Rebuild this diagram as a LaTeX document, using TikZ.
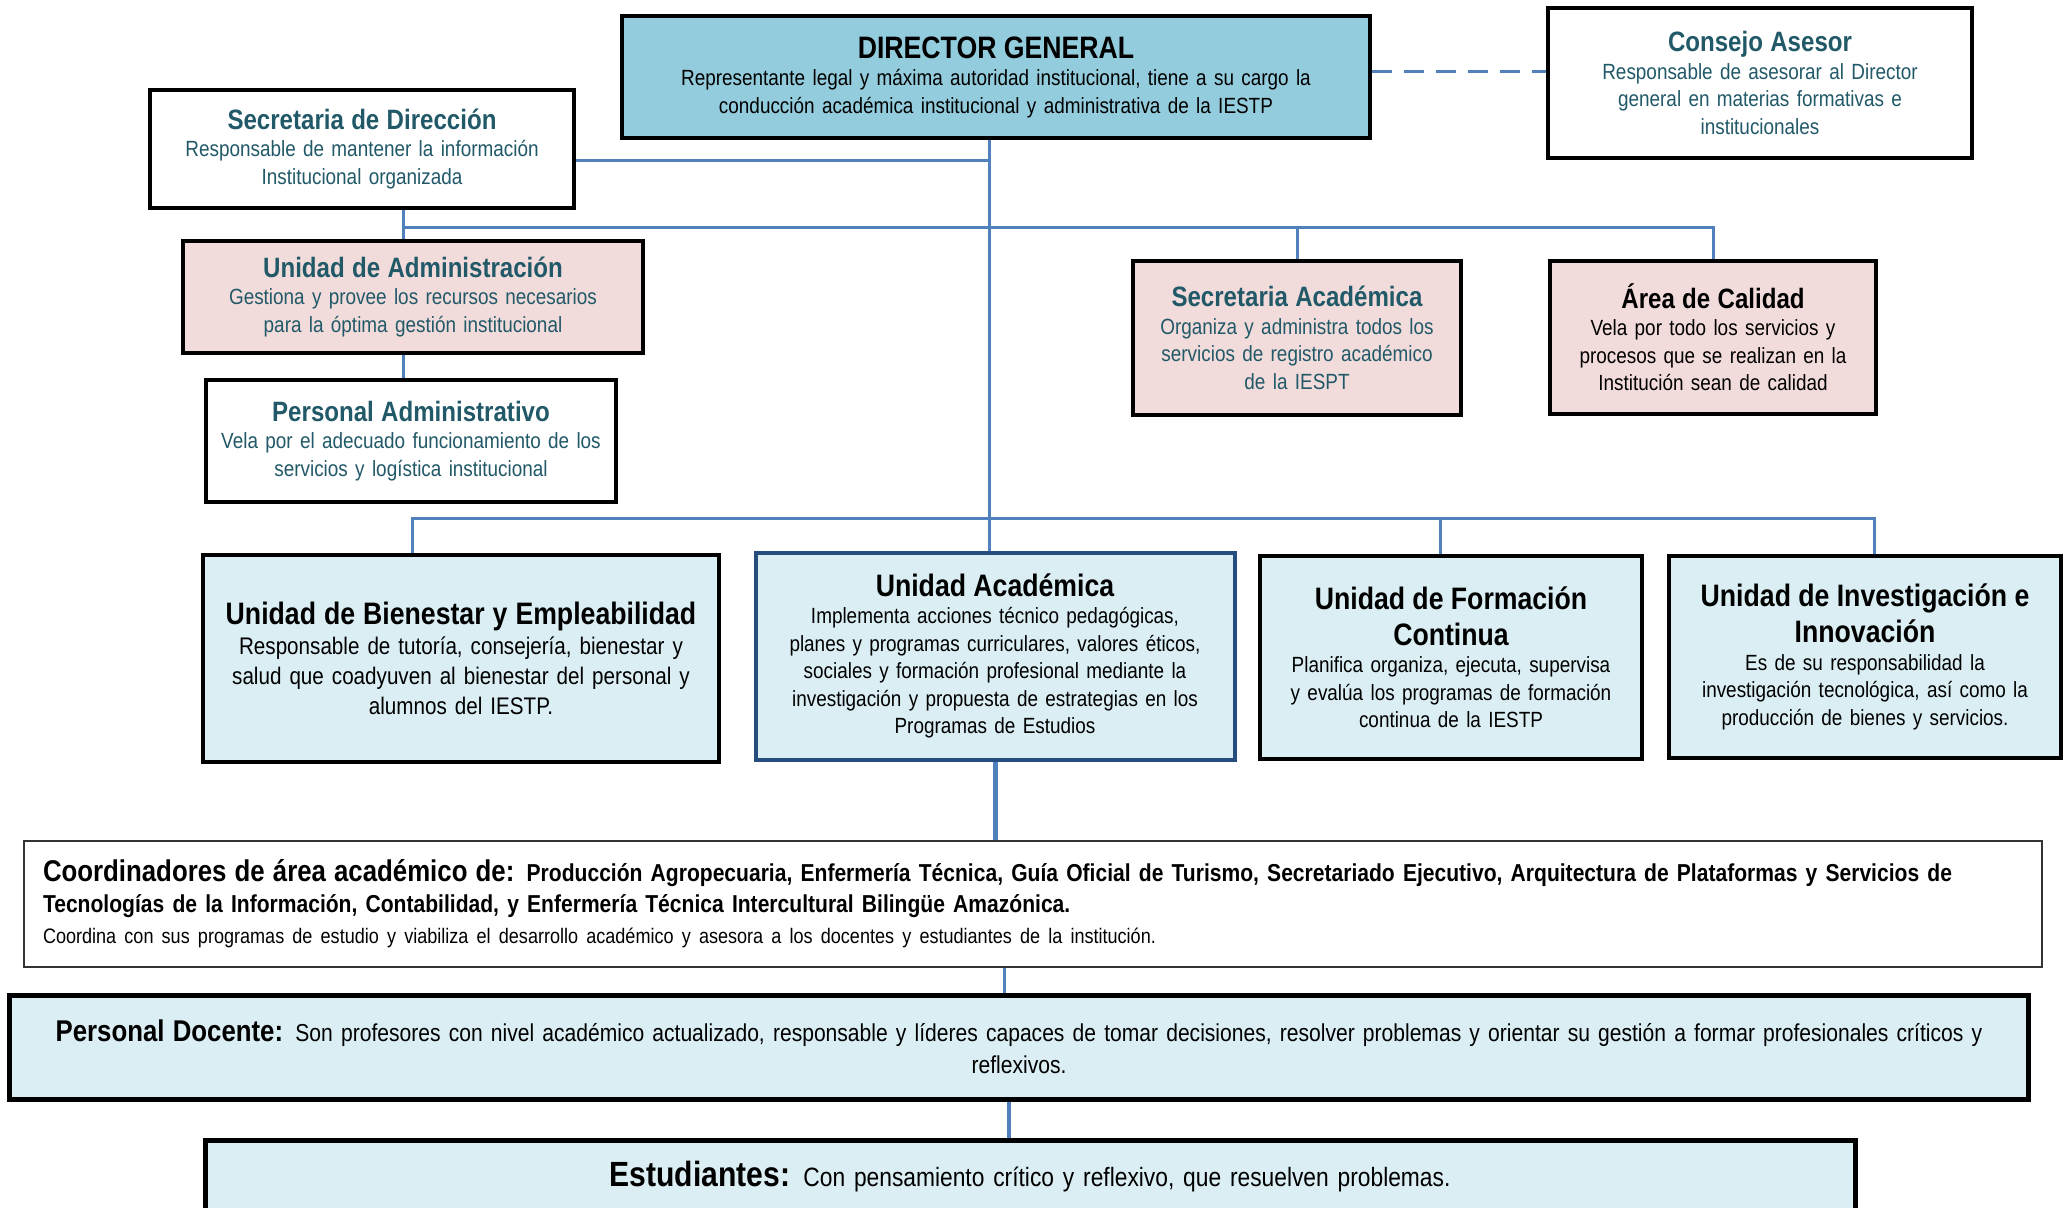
\documentclass[tikz,border=0pt]{standalone}
\usepackage{fontspec}
\setmainfont[FakeStretch=0.86, WordSpace=0.85]{Liberation Sans}
\definecolor{celeste}{HTML}{93CDDD}
\definecolor{celestecl}{HTML}{DAEEF3}
\definecolor{rosa}{HTML}{F2DCDB}
\definecolor{petroleo}{HTML}{215968}
\definecolor{linea}{HTML}{4F81BD}
\definecolor{azulosc}{HTML}{254E7E}
% titulo de cada cargo
\newcommand{\cab}[3]{{\fontsize{#1}{#2}\selectfont\bfseries #3\par}}

\begin{document}
\begin{tikzpicture}[
  x=1pt, y=-1pt,
  font=\fontsize{22}{27.5}\selectfont,
  box/.style={draw=black, line width=4pt, inner sep=6pt, align=center},
  conn/.style={draw=linea, line width=3pt},
]

\useasboundingbox (0,0) rectangle (2066,1207);
\clip (0,0) rectangle (2066,1207);

% direccion
\node[box, fill=celeste, minimum width=748pt, minimum height=122pt, text width=730pt] (dir) at (996,77)
  {\cab{31}{35}{DIRECTOR GENERAL}Representante legal y máxima autoridad institucional, tiene a su cargo la\\conducción académica institucional y administrativa de la IESTP};
\node[box, fill=white, text=petroleo, minimum width=424pt, minimum height=149pt, text width=406pt] (cons) at (1760,83)
  {\cab{28}{33}{Consejo Asesor}Responsable de asesorar al Director\\general en materias formativas e\\institucionales};
\node[box, fill=white, text=petroleo, minimum width=424pt, minimum height=118pt, text width=406pt] (secdir) at (362,149)
  {\cab{28}{33}{Secretaria de Dirección}Responsable de mantener la información\\Institucional organizada};

% apoyo
\node[box, fill=rosa, text=petroleo, minimum width=460pt, minimum height=112pt, text width=442pt] (uadm) at (413,297)
  {\cab{28}{33}{Unidad de Administración}Gestiona y provee los recursos necesarios\\para la óptima gestión institucional};
\node[box, fill=white, text=petroleo, minimum width=406pt, minimum height=122pt, text width=398pt] (padm) at (411,441)
  {\cab{28}{33}{Personal Administrativo}Vela por el adecuado funcionamiento de los\\servicios y logística institucional};
\node[box, fill=rosa, text=petroleo, minimum width=328pt, minimum height=154pt, text width=316pt] (secacad) at (1297,338)
  {\cab{28}{33}{Secretaria Académica}Organiza y administra todos los\\servicios de registro académico\\de la IESPT};
\node[box, fill=rosa, minimum width=326pt, minimum height=153pt, text width=314pt] (calidad) at (1713,337)
  {\cab{28}{33}{Área de Calidad}Vela por todo los servicios y\\procesos que se realizan en la\\Institución sean de calidad};

% unidades
\node[box, fill=celestecl, minimum width=516pt, minimum height=207pt, text width=498pt, font=\fontsize{24}{30}\selectfont] (bien) at (461,658)
  {\cab{31}{36}{Unidad de Bienestar y Empleabilidad}Responsable de tutoría, consejería, bienestar y\\salud que coadyuven al bienestar del personal y\\alumnos del IESTP.};
\node[box, draw=azulosc, fill=celestecl, minimum width=479pt, minimum height=207pt, text width=467pt] (uacad) at (995,656)
  {\cab{31}{34}{Unidad Académica}Implementa acciones técnico pedagógicas,\\planes y programas curriculares, valores éticos,\\sociales y formación profesional mediante la\\investigación y propuesta de estrategias en los\\Programas de Estudios};
\node[box, fill=celestecl, minimum width=382pt, minimum height=203pt, text width=370pt] (ufc) at (1451,657)
  {\cab{31}{36}{Unidad de Formación\\Continua}Planifica organiza, ejecuta, supervisa\\y evalúa los programas de formación\\continua de la IESTP};
\node[box, fill=celestecl, minimum width=392pt, minimum height=202pt, text width=380pt] (uinv) at (1865,657)
  {\cab{31}{36}{Unidad de Investigación e\\Innovación}Es de su responsabilidad la\\investigación tecnológica, así como la\\producción de bienes y servicios.};

% base
\node[box, draw=black!80, line width=1.5pt, fill=white, align=left, inner sep=19pt, minimum width=2018pt, minimum height=117pt, text width=1980pt, font=\fontsize{24.5}{31}\selectfont] (coord) at (1033,904)
  {{\fontsize{30}{31}\selectfont\bfseries Coordinadores de área académico de:} {\bfseries Producción Agropecuaria, Enfermería Técnica, Guía Oficial de Turismo, Secretariado Ejecutivo, Arquitectura de Plataformas y Servicios de}\\{\bfseries Tecnologías de la Información, Contabilidad, y Enfermería Técnica Intercultural Bilingüe Amazónica.}\\{\fontsize{21}{24}\selectfont Coordina con sus programas de estudio y viabiliza el desarrollo académico y asesora a los docentes y estudiantes de la institución.}};
\node[box, line width=5pt, fill=celestecl, minimum width=2019pt, minimum height=104pt, text width=1995pt, font=\fontsize{24.5}{32}\selectfont] (doc) at (1019,1047)
  {{\fontsize{30}{32}\selectfont\bfseries Personal Docente:} Son profesores con nivel académico actualizado, responsable y líderes capaces de tomar decisiones, resolver problemas y orientar su gestión a formar profesionales críticos y\\reflexivos.};
\node[box, line width=5pt, fill=celestecl, minimum width=1650pt, minimum height=74pt, text width=1630pt, font=\fontsize{26.5}{30}\selectfont] (est) at (1030,1177)
  {{\fontsize{35}{30}\selectfont\bfseries Estudiantes:} Con pensamiento crítico y reflexivo, que resuelven problemas.};

% conectores
\coordinate (tr) at (989,0);
\coordinate (b1) at (403,227);
\coordinate (b2l) at (412,518);
\coordinate (b2r) at (1874,518);
\coordinate (d1) at (1004,0);
\coordinate (d2) at (1009,0);

\draw[conn, dash pattern=on 20pt off 12pt] ([yshift=5pt]dir.east) -- ([yshift=5pt]dir.east -| cons.west);
\draw[conn] (tr |- dir.south) -- (tr |- uacad.north);
\draw[conn] ([yshift=-11pt]secdir.east) coordinate (sdx) -- (sdx -| tr);
\draw[conn] (b1 |- secdir.south) -- (b1 |- uadm.north);
\draw[conn] (b1) -- (b1 -| calidad.north) -- (calidad.north);
\draw[conn] (b1 -| secacad.north) -- (secacad.north);
\draw[conn] (b1 |- uadm.south) -- (b1 |- padm.north);
\draw[conn] (b2l |- bien.north) -- (b2l) -- (b2r) -- (b2r |- uinv.north);
\draw[conn] ([xshift=-11pt]ufc.north) coordinate (ufx) -- (ufx |- b2l);
\draw[conn, line width=5pt] (uacad.south) -- (uacad.south |- coord.north);
\draw[conn] (d1 |- coord.south) -- (d1 |- doc.north);
\draw[conn, line width=4pt] (d2 |- doc.south) -- (d2 |- est.north);

\end{tikzpicture}
\end{document}
